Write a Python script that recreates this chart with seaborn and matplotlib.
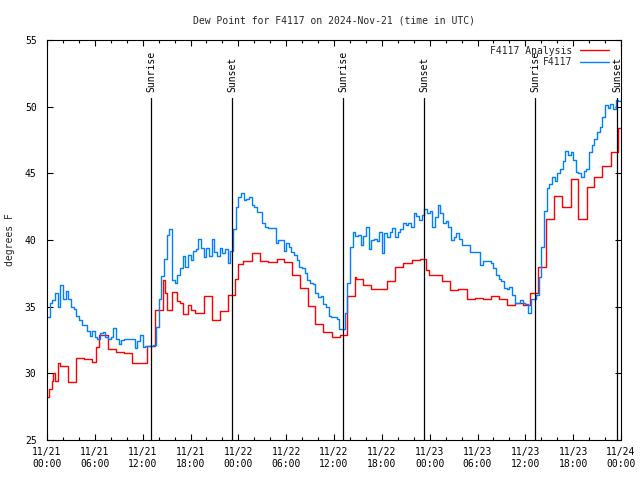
import numpy as np
import pandas as pd
import matplotlib
matplotlib.use("Agg")
import matplotlib.pyplot as plt
import matplotlib.dates as mdates
import seaborn as sns

# ── style ────────────────────────────────────────────
sns.set_theme(style="ticks")
plt.rcParams.update({
    "font.family": ["DejaVu Sans Mono", "DejaVu Sans"],
    "font.size": 7,
    "axes.linewidth": 0.8,
    "axes.edgecolor": "black",
    "xtick.direction": "in",
    "ytick.direction": "in",
})

START = pd.Timestamp("2024-11-21 00:00")
RED = "#ff0000"
BLUE = "#0080ff"

# ── data ─────────────────────────────────────────────
# station observations, one value every 20 minutes from 11/21 00:00
obs_step_min = 20
obs_vals = [
    34.2, 35.3, 35.5, 36.0, 35.0, 36.6, 35.6, 36.2, 35.6, 35.0, 34.8, 34.3,
    34.0, 33.6, 33.6, 33.2, 32.8, 33.2, 32.7, 32.6, 33.0, 33.1, 32.7, 32.6,
    32.7, 33.4, 32.6, 32.2, 32.5, 32.6, 32.6, 32.6, 32.6, 31.9, 32.4, 32.9,
    32.0, 32.05, 32.05, 32.05, 32.1, 33.5, 35.6, 37.3, 38.6, 40.4, 40.8, 37.0,
    36.8, 37.4, 37.9, 38.8, 38.0, 38.9, 38.5, 39.2, 39.3, 40.1, 39.4, 38.7,
    39.4, 38.8, 40.1, 39.1, 38.8, 39.4, 39.0, 39.3, 38.25, 39.2, 40.8, 42.5,
    43.2, 43.5, 43.0, 43.1, 43.2, 42.6, 42.5, 42.1, 42.1, 41.25, 41.0, 40.9,
    40.9, 40.9, 39.8, 40.0, 40.0, 39.2, 39.8, 39.5, 39.1, 38.9, 38.5, 38.0,
    37.9, 37.5, 37.0, 36.75, 36.7, 36.0, 35.75, 35.8, 35.2, 35.0, 34.3, 34.2,
    34.2, 34.1, 33.3, 33.3, 34.5, 36.8, 39.5, 40.6, 40.3, 40.4, 39.6, 40.3,
    41.0, 39.3, 40.0, 40.1, 39.9, 40.6, 39.0, 40.5, 40.2, 40.6, 40.9, 40.2,
    40.6, 40.8, 41.3, 41.1, 41.3, 41.0, 42.0, 41.8, 41.5, 41.9, 42.3, 42.0,
    42.2, 41.0, 41.7, 42.6, 42.0, 41.3, 41.4, 41.0, 40.0, 40.2, 40.5, 40.1,
    39.6, 39.6, 39.6, 39.1, 39.1, 39.1, 39.1, 38.1, 38.4, 38.4, 38.4, 38.3,
    37.9, 37.4, 37.1, 36.9, 36.4, 36.3, 36.5, 35.9, 35.25, 35.25, 35.5, 35.25,
    35.2, 34.5, 35.55, 35.55, 35.9, 37.2, 39.5, 42.2, 43.9, 44.2, 44.7, 44.4,
    45.0, 45.3, 45.9, 46.7, 46.4, 46.6, 46.0, 45.1, 45.0, 44.75, 45.2, 45.3,
    46.6, 47.1, 47.6, 48.1, 48.5, 49.2, 50.1, 49.9, 50.2, 49.8, 50.5, 50.4,
    50.6,
]

# analysis values: hours after start where the value changes, and the value
ana_hours = [
    0.0, 0.3, 0.6, 0.8, 1.0, 1.4, 1.6, 2.6, 3.65, 4.7, 5.6, 6.2, 6.5, 7.7,
    8.6, 9.6, 10.7, 12.5, 13.5, 14.6, 14.8, 15.0, 15.7, 16.35, 16.7, 17.1,
    17.65, 18.1, 18.6, 19.7, 20.65, 21.7, 22.67, 23.58, 24.0, 24.63, 25.67,
    26.72, 27.76, 28.8, 29.77, 30.69, 31.74, 32.78, 33.6, 34.66, 35.7, 36.75,
    37.67, 38.6, 38.8, 39.7, 40.7, 42.7, 43.7, 44.7, 45.75, 46.8, 47.6,
    47.96, 48.7, 49.6, 50.6, 51.6, 52.65, 53.7, 54.7, 55.65, 56.7, 57.74,
    58.7, 59.75, 60.6, 61.6, 62.55, 63.6, 64.6, 65.7, 66.65, 67.7, 68.6,
    69.66, 70.7, 71.6, 72.0,
]
ana_vals = [
    28.2, 28.8, 29.4, 30.0, 29.4, 30.8, 30.55, 29.35, 31.15, 31.05, 30.85,
    32.0, 32.9, 31.8, 31.6, 31.5, 30.8, 32.05, 34.75, 37.0, 36.0, 34.75,
    36.1, 35.4, 35.25, 34.45, 35.1, 34.75, 34.5, 35.8, 34.0, 34.7, 35.9,
    37.1, 38.2, 38.4, 39.05, 38.4, 38.35, 38.6, 38.35, 37.4, 36.4, 35.05,
    33.7, 33.1, 32.75, 32.9, 35.8, 37.25, 37.1, 36.6, 36.3, 36.95, 37.95,
    38.3, 38.5, 38.6, 37.75, 37.4, 37.4, 36.9, 36.25, 36.3, 35.6, 35.65,
    35.6, 35.8, 35.6, 35.1, 35.25, 35.1, 36.0, 37.95, 41.55, 43.3, 42.5,
    44.57, 41.55, 44.0, 44.7, 45.55, 46.6, 48.4, 48.4,
]

# sun events, hours after start
sunrise_hours = [13.08, 37.17, 61.26]
sunset_hours = [23.25, 47.33, 71.5]

obs = pd.DataFrame({
    "time": START + pd.to_timedelta(np.arange(len(obs_vals)) * obs_step_min, unit="min"),
    "dewpoint": obs_vals,
})
ana = pd.DataFrame({
    "time": START + pd.to_timedelta(ana_hours, unit="h"),
    "dewpoint": ana_vals,
})

# ── figure ───────────────────────────────────────────
fig = plt.figure(figsize=(6.4, 4.8), dpi=100)
fig.patch.set_facecolor("white")
ax = fig.add_axes([47 / 640, 40 / 480, 574 / 640, 400 / 480])
ax.set_facecolor("white")

sns.lineplot(data=ana, x="time", y="dewpoint", drawstyle="steps-post",
             color=RED, linewidth=1.0, estimator=None, label="F4117 Analysis", ax=ax)
sns.lineplot(data=obs, x="time", y="dewpoint", drawstyle="steps-post",
             color=BLUE, linewidth=1.0, estimator=None, label="F4117", ax=ax)

# sunrise / sunset markers
for name, hours in (("Sunrise", sunrise_hours), ("Sunset", sunset_hours)):
    for h in hours:
        t = START + pd.Timedelta(hours=h)
        ax.plot([t, t], [25, 25 + 30 * 0.855], color="black", linewidth=0.9)
        ax.text(t, 25 + 30 * 0.87, name, rotation=90, ha="center", va="bottom",
                fontsize=7, color="black")

ax.set_xlim(START, START + pd.Timedelta(hours=72))
ax.set_ylim(25, 55)
ax.set_yticks(np.arange(25, 56, 5))

ax.xaxis.set_major_locator(mdates.HourLocator(byhour=[0, 6, 12, 18]))
ax.xaxis.set_minor_locator(mdates.HourLocator(interval=2))
ax.xaxis.set_major_formatter(mdates.DateFormatter("%m/%d\n%H:%M"))

ax.tick_params(which="both", top=True, right=True, direction="in",
               labelsize=7, colors="black")
ax.tick_params(which="major", length=4, width=0.8)
ax.tick_params(which="minor", length=2, width=0.8)
ax.tick_params(axis="x", pad=5)
ax.tick_params(axis="y", pad=7.5)
for sp in ax.spines.values():
    sp.set_visible(True)
    sp.set_color("black")

ax.set_xlabel("")
ax.set_ylabel("degrees F", fontsize=7, labelpad=7)
ax.set_title("Dew Point for F4117 on 2024-Nov-21 (time in UTC)", fontsize=7, pad=12)

ax.legend(loc="upper right", bbox_to_anchor=(1 - 6 / 574, 1.0), frameon=False,
          markerfirst=False, fontsize=7, handlelength=3.0, handletextpad=0.8,
          borderaxespad=0.2, labelspacing=0.15)

fig.savefig("out.png", dpi=100, facecolor="white")
plt.close(fig)
